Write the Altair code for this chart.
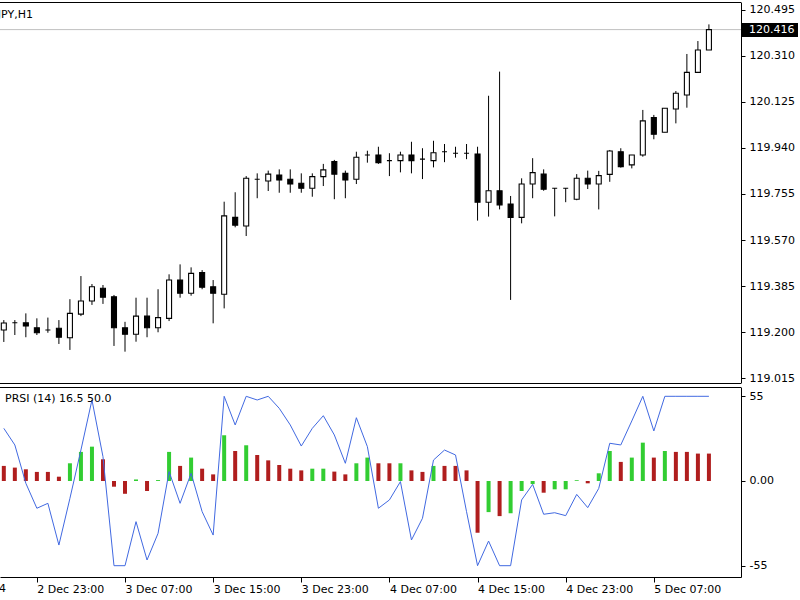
import altair as alt
import pandas as pd

# ---------------- data ----------------
opens = [119.208, 119.237, 119.237, 119.217, 119.208, 119.215, 119.177, 119.272, 119.325, 119.376,
         119.342, 119.217, 119.191, 119.264, 119.217, 119.255, 119.409, 119.356, 119.439, 119.382,
         119.352, 119.661, 119.626, 119.814, 119.807, 119.831, 119.814, 119.798, 119.778, 119.825,
         119.885, 119.838, 119.814, 119.912, 119.912, 119.889, 119.889, 119.912, 119.895, 119.889,
         119.925, 119.919, 119.919, 119.916, 119.722, 119.768, 119.715, 119.661, 119.795, 119.835,
         119.778, 119.778, 119.734, 119.818, 119.795, 119.834, 119.925, 119.872, 119.912, 120.062,
         120.003, 120.097, 120.153, 120.244, 120.334]
highs = [119.248, 119.248, 119.275, 119.255, 119.258, 119.248, 119.332, 119.425, 119.393, 119.389,
         119.349, 119.241, 119.338, 119.338, 119.372, 119.432, 119.472, 119.460, 119.449, 119.409,
         119.724, 119.762, 119.827, 119.838, 119.849, 119.854, 119.854, 119.838, 119.838, 119.876,
         119.892, 119.849, 119.925, 119.929, 119.945, 119.919, 119.925, 119.965, 119.939, 119.969,
         119.956, 119.945, 119.956, 119.945, 120.150, 120.247, 119.747, 119.818, 119.899, 119.854,
         119.779, 119.779, 119.835, 119.849, 119.848, 119.932, 119.939, 119.912, 120.093, 120.073,
         120.100, 120.169, 120.318, 120.370, 120.437]
lows = [119.160, 119.188, 119.179, 119.188, 119.197, 119.152, 119.128, 119.264, 119.309, 119.313,
        119.144, 119.121, 119.161, 119.179, 119.199, 119.244, 119.338, 119.346, 119.372, 119.235,
        119.295, 119.621, 119.586, 119.738, 119.767, 119.760, 119.760, 119.760, 119.744, 119.787,
        119.734, 119.738, 119.795, 119.881, 119.876, 119.827, 119.842, 119.838, 119.815, 119.862,
        119.883, 119.901, 119.895, 119.648, 119.664, 119.693, 119.329, 119.637, 119.738, 119.768,
        119.665, 119.722, 119.730, 119.775, 119.693, 119.804, 119.861, 119.858, 119.905, 119.975,
        120.003, 120.039, 120.102, 120.244, 120.334]
closes = [119.236, 119.237, 119.224, 119.197, 119.208, 119.179, 119.275, 119.325, 119.382, 119.340,
          119.217, 119.191, 119.264, 119.217, 119.258, 119.409, 119.356, 119.436, 119.380, 119.356,
          119.667, 119.630, 119.818, 119.814, 119.835, 119.811, 119.795, 119.778, 119.825, 119.852,
          119.835, 119.811, 119.903, 119.912, 119.881, 119.889, 119.912, 119.889, 119.895, 119.921,
          119.925, 119.919, 119.919, 119.722, 119.768, 119.711, 119.661, 119.795, 119.841, 119.774,
          119.778, 119.778, 119.818, 119.795, 119.829, 119.928, 119.865, 119.912, 120.049, 119.995,
          120.100, 120.160, 120.244, 120.334, 120.416]

hist_vals = [9.8, 8.7, 7.6, 5.9, 5.9, 2.8, 11.5, 18.9, 22.3, 14.1,
             -3.7, -8.3, 1.0, -6.5, 0.6, 18.9, 9.8, 15.2, 8.0, 4.3,
             29.7, 19.5, 23.2, 16.9, 13.4, 10.4, 8.0, 6.9, 8.0, 8.0,
             6.1, 4.3, 11.5, 15.2, 11.5, 11.5, 11.5, 6.9, 5.9, 9.8,
             9.8, 9.8, 6.9, -33.6, -20.2, -22.8, -21.0, -6.5, -2.0, -7.6,
             -5.4, -5.4, 0.5, -1.5, 5.0, 19.5, 12.4, 15.2, 24.9, 15.2,
             19.5, 18.9, 18.9, 17.8, 17.8]
hist_cols = ["r", "r", "r", "r", "r", "r", "g", "g", "g", "r",
             "r", "r", "g", "r", "g", "g", "r", "g", "r", "r",
             "g", "r", "g", "r", "r", "r", "r", "r", "g", "g",
             "r", "r", "g", "g", "r", "r", "g", "r", "r", "g",
             "r", "r", "r", "r", "g", "r", "g", "g", "g", "r",
             "g", "g", "g", "r", "g", "g", "r", "g", "g", "r",
             "g", "r", "r", "r", "r"]
prsi_line = [34.2, 23.4, -1.5, -17.7, -14.5, -41.6, -11.3, 20.1, 52.6, 15.8,
             -55.0, -55.0, -26.4, -51.3, -34.0, 6.1, -14.5, 5.0, -19.9, -35.1,
             55.0, 36.4, 55.0, 52.6, 55.0, 47.2, 36.4, 22.7, 34.2, 42.4,
             29.9, 11.5, 41.1, 22.3, -17.7, -12.3, -0.4, -38.3, -24.2, 13.6,
             20.1, 16.9, -19.9, -55.0, -39.0, -55.0, -55.0, -12.3, -2.2, -21.6,
             -20.6, -22.5, -8.7, -17.3, -4.8, 24.5, 23.4, 39.0, 55.0, 32.5,
             55.0, 55.0, 55.0, 55.0, 55.0]

time_ticks = [3, 11, 19, 27, 35, 43, 51, 59]
time_labels = ["2 Dec 23:00", "3 Dec 07:00", "3 Dec 15:00", "3 Dec 23:00",
               "4 Dec 07:00", "4 Dec 15:00", "4 Dec 23:00", "5 Dec 07:00"]
first_tick = [-5]
first_label = ["2 Dec 2014"]
price_ticks = [119.015, 119.200, 119.385, 119.570, 119.755, 119.940, 120.125, 120.310, 120.495]
prsi_ticks = [-55, 0, 55]
title_text = ["USDJPY,H1"]
prsi_text = ["PRSI (14) 16.5 50.0"]

# ---------------- tables ----------------
df = pd.DataFrame({
    "i": list(range(len(opens))),
    "open": opens, "high": highs, "low": lows, "close": closes,
    "h": hist_vals, "hc": hist_cols, "p": prsi_line,
})
last = df.tail(1)
one = pd.DataFrame({"k": [0]})
first_df = pd.DataFrame({"i": first_tick, "t": first_label})

FONT = "DejaVu Sans"
W, H = 741, 577

xs = alt.Scale(domain=[0.1075, 66.458], nice=False, zero=False)
main_y = alt.Scale(domain=[118.995, 120.527], range=[383, 2], nice=False, zero=False)
sub_y = alt.Scale(domain=[-62.34, 61.04], range=[577, 387], nice=False, zero=False)

lab_arr = "[" + ",".join("'" + s + "'" for s in time_labels) + "]"
tick_arr = "[" + ",".join(str(v) for v in time_ticks) + "]"
x_axis = alt.Axis(orient="bottom", values=time_ticks,
                  labelExpr=lab_arr + "[indexof(" + tick_arr + ", datum.value)]",
                  labelAlign="left", labelFlush=False, labelOverlap=False,
                  tickSize=5, labelPadding=1, grid=False, title=None,
                  domainColor="black", tickColor="black", labelColor="black",
                  labelFont=FONT, labelFontSize=11)

main_axis = alt.Axis(orient="right", values=price_ticks, format=".3f",
                     tickSize=4, labelPadding=4, grid=False, title=None,
                     labelOverlap=False, domainColor="black", tickColor="black",
                     labelColor="black", labelFont=FONT, labelFontSize=11)
sub_axis = alt.Axis(orient="right", values=prsi_ticks,
                    labelExpr="datum.value == 0 ? '0.00' : '' + datum.value",
                    tickSize=4, labelPadding=4, grid=False, title=None,
                    labelOverlap=False, domainColor="black", tickColor="black",
                    labelColor="black", labelFont=FONT, labelFontSize=11)


def X():
    return alt.X("i:Q", scale=xs, axis=x_axis)


# current price line
price_line = alt.Chart(last).mark_rule(color="#c0c0c0", strokeWidth=1).encode(
    y=alt.Y("close:Q", scale=main_y, axis=None))

wicks = alt.Chart(df).mark_rule(color="black", strokeWidth=1).encode(
    x=X(), y=alt.Y("low:Q", scale=main_y, axis=None), y2="high:Q")

bodies = alt.Chart(df).mark_bar(size=5, stroke="black", strokeWidth=1.1).encode(
    x=X(),
    y=alt.Y("open:Q", scale=main_y, axis=main_axis),
    y2="close:Q",
    fill=alt.condition("datum.close >= datum.open", alt.value("white"), alt.value("black")),
)

hist = alt.Chart(df).mark_bar(size=4).encode(
    x=X(),
    y=alt.Y("h:Q", scale=sub_y, axis=sub_axis),
    y2=alt.datum(0),
    color=alt.Color("hc:N", scale=alt.Scale(domain=["g", "r"], range=["#32CD32", "#B01E1E"]), legend=None),
)

line = alt.Chart(df).mark_line(color="#4169E1", strokeWidth=1).encode(
    x=X(), y=alt.Y("p:Q", scale=sub_y, axis=None))

# first (partly hidden) time label, left of the visible range
first_lab = alt.Chart(first_df).mark_text(
    align="left", baseline="top", font=FONT, fontSize=11, color="black", dy=6, dx=-6).encode(
    x=X(), y=alt.value(H), text="t:N")

# panel borders
top_border = alt.Chart(one).mark_rule(color="black", strokeWidth=1).encode(
    x=alt.value(0), x2=alt.value(W), y=alt.value(2.5))
main_bottom = alt.Chart(one).mark_rule(color="black", strokeWidth=1).encode(
    x=alt.value(0), x2=alt.value(W), y=alt.value(383.5))
sub_top = alt.Chart(one).mark_rule(color="black", strokeWidth=1).encode(
    x=alt.value(0), x2=alt.value(W), y=alt.value(387.5))

# current price tag
tag_box = alt.Chart(one).mark_rect(color="black").encode(
    x=alt.value(742), x2=alt.value(798), y=alt.value(23), y2=alt.value(37))
tag_text = alt.Chart(last).mark_text(align="left", baseline="middle", color="white",
                                     font=FONT, fontSize=11).encode(
    x=alt.value(749), y=alt.Y("close:Q", scale=main_y, axis=None),
    text=alt.Text("close:Q", format=".3f"))

title = alt.Chart(pd.DataFrame({"t": title_text})).mark_text(
    align="right", baseline="middle", font=FONT, fontSize=11, color="black").encode(
    x=alt.value(33), y=alt.value(15), text="t:N")

prsi_label = alt.Chart(pd.DataFrame({"t": prsi_text})).mark_text(
    align="left", baseline="middle", font=FONT, fontSize=11, color="black").encode(
    x=alt.value(5), y=alt.value(399), text="t:N")

chart = alt.layer(
    price_line, wicks, bodies, hist, line, first_lab,
    top_border, main_bottom, sub_top, tag_box, tag_text, title, prsi_label,
).resolve_scale(y="independent").properties(
    width=W, height=H,
    padding={"left": 0, "top": 0, "right": 59, "bottom": 23},
    autosize=alt.AutoSizeParams(type="none"),
    background="white",
).configure_view(stroke=None)

chart.save("out.html", embed_options={"renderer": "svg", "actions": False})
